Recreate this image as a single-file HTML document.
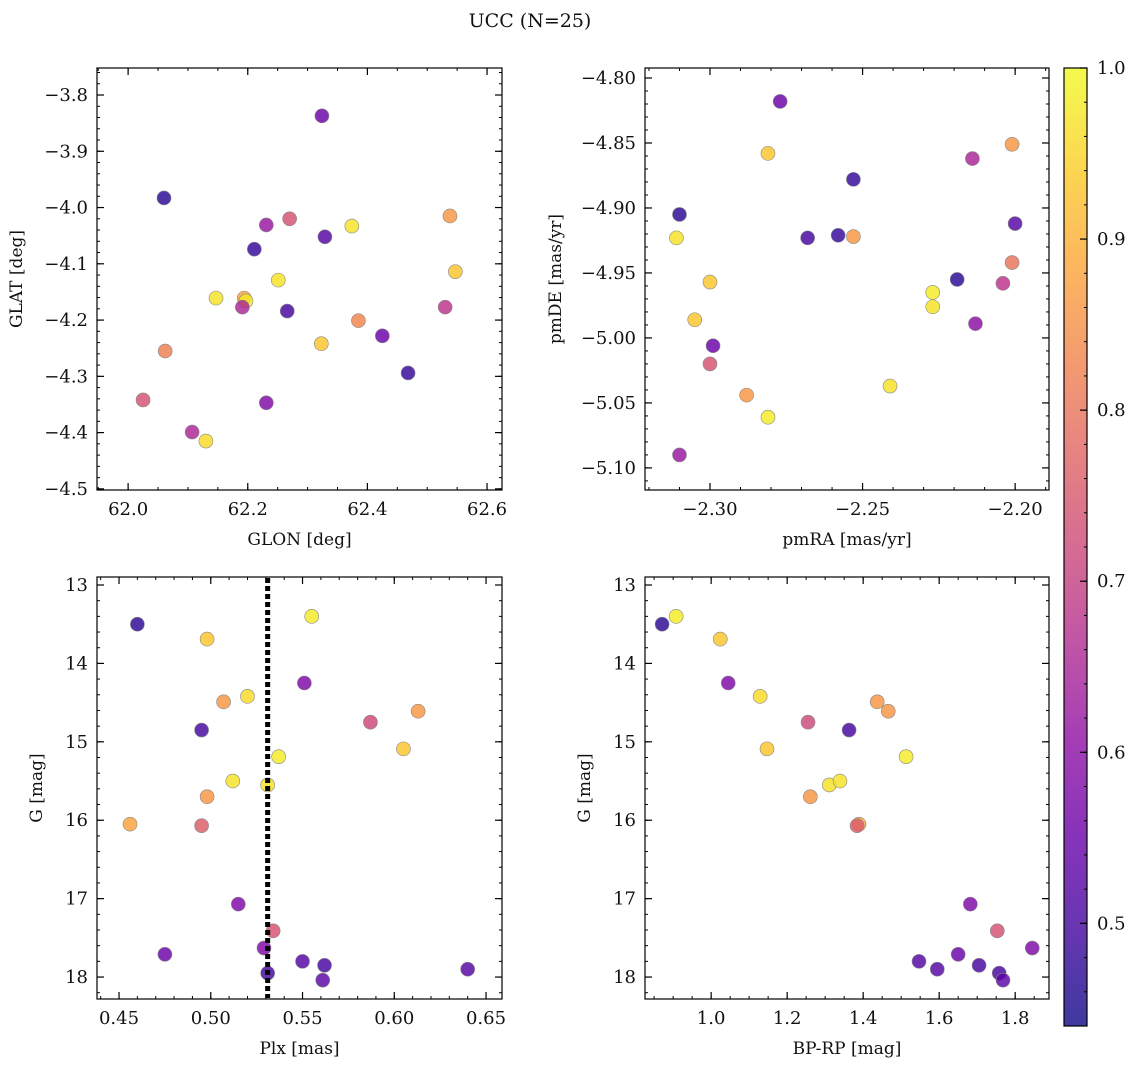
<!DOCTYPE html>
<html><head><meta charset="utf-8"><style>
body{margin:0;background:#fff;}
svg text{font-family:"DejaVu Serif","Liberation Serif",serif;fill:#111;}
</style></head><body>
<svg id="fig" width="1136" height="1067" xmlns="http://www.w3.org/2000/svg">
<text x="530" y="27" font-size="19" text-anchor="middle">UCC (N=25)</text>
</svg>
<script>
const glon=[62.324,62.06,62.231,62.27,62.329,62.374,62.538,62.211,62.547,62.251,62.147,62.194,62.197,62.191,62.53,62.266,62.385,62.323,62.425,62.062,62.468,62.025,62.231,62.107,62.13];
const glat=[-3.837,-3.983,-4.031,-4.02,-4.052,-4.033,-4.015,-4.074,-4.114,-4.129,-4.161,-4.161,-4.166,-4.177,-4.177,-4.184,-4.201,-4.242,-4.228,-4.255,-4.294,-4.342,-4.347,-4.399,-4.415];
const cTL=[0.55,0.47,0.62,0.74,0.52,0.97,0.86,0.48,0.93,0.97,0.97,0.88,0.98,0.65,0.68,0.5,0.83,0.93,0.55,0.82,0.48,0.74,0.58,0.65,0.96];
const pmra=[-2.277,-2.281,-2.253,-2.214,-2.201,-2.310,-2.311,-2.268,-2.258,-2.253,-2.2,-2.219,-2.201,-2.204,-2.30,-2.227,-2.227,-2.305,-2.213,-2.299,-2.30,-2.288,-2.241,-2.281,-2.310];
const pmde=[-4.818,-4.858,-4.878,-4.862,-4.851,-4.905,-4.923,-4.923,-4.921,-4.922,-4.912,-4.955,-4.942,-4.958,-4.957,-4.965,-4.976,-4.986,-4.989,-5.006,-5.020,-5.044,-5.037,-5.061,-5.090];
const cTR=[0.55,0.93,0.48,0.65,0.86,0.47,0.97,0.5,0.48,0.86,0.52,0.47,0.8,0.68,0.93,0.98,0.97,0.93,0.6,0.55,0.74,0.86,0.97,0.98,0.62];
const plx=[0.460,0.498,0.555,0.551,0.507,0.520,0.587,0.613,0.495,0.605,0.537,0.512,0.531,0.498,0.456,0.495,0.515,0.534,0.529,0.475,0.550,0.562,0.531,0.561,0.640];
const gmag=[13.50,13.69,13.40,14.25,14.49,14.42,14.75,14.61,14.85,15.09,15.19,15.50,15.55,15.70,16.05,16.07,17.07,17.41,17.63,17.71,17.80,17.85,17.95,18.04,17.90];
const cBL=[0.47,0.93,0.98,0.58,0.86,0.96,0.72,0.86,0.5,0.93,0.98,0.97,0.97,0.86,0.88,0.76,0.58,0.74,0.58,0.55,0.52,0.5,0.5,0.53,0.52];
const bprp=[0.871,0.908,1.024,1.045,1.129,1.437,1.466,1.255,1.363,1.147,1.513,1.311,1.339,1.261,1.389,1.384,1.682,1.753,1.845,1.650,1.547,1.705,1.758,1.768,1.595];
const gmag2=[13.50,13.40,13.69,14.25,14.42,14.49,14.61,14.75,14.85,15.09,15.19,15.55,15.50,15.70,16.05,16.07,17.07,17.41,17.63,17.71,17.80,17.85,17.95,18.04,17.90];
const cBR=[0.47,0.98,0.93,0.58,0.96,0.86,0.86,0.72,0.5,0.93,0.98,0.97,0.97,0.86,0.88,0.76,0.58,0.74,0.58,0.55,0.52,0.5,0.5,0.53,0.52];
const plxLine=0.531;
const cbTicks=[0.5,0.6,0.7,0.8,0.9,1.0];

const NS="http://www.w3.org/2000/svg";
const svg=document.getElementById('fig');
function mk(tag,at,parent){const e=document.createElementNS(NS,tag);for(const k in at)e.setAttribute(k,at[k]);(parent||svg).appendChild(e);return e;}
const stops=['#0d0887','#41049d','#6a00a8','#8f0da4','#b12a90','#cc4778','#e16462','#f2844b','#fca636','#fcce25','#f0f921'];
function hx(h){return [1,3,5].map(i=>parseInt(h.substr(i,2),16));}
const VMIN=0.44,VMAX=1.0;
function cmap(v){let t=Math.max(0,Math.min(1,(v-VMIN)/(VMAX-VMIN)))*10;let i=Math.min(9,Math.floor(t)),f=t-i;const a=hx(stops[i]),b=hx(stops[i+1]);return 'rgb('+a.map((x,k)=>Math.round(x+(b[k]-x)*f)).join(',')+')';}
function fmt(v,d){return (v<0?'\u2212':'')+Math.abs(v).toFixed(d);}
const TF=18, LF=17;
function panel(name,L,T,R,B,xr,yr,xt,xmin,xd,yt,ymin,yd,xlab,ylab,ylabX,xs,ys,cs,inv){
  const g=mk('g',{});
  
  
  const X=v=>L+(v-xr[0])/(xr[1]-xr[0])*(R-L);
  const Y=inv?(v=>T+(v-yr[0])/(yr[1]-yr[0])*(B-T)):(v=>B-(v-yr[0])/(yr[1]-yr[0])*(B-T));
  const ax=mk('g',{},g);
  for(let v=Math.ceil(xr[0]/xmin-1e-6)*xmin;v<=xr[1]+1e-9;v+=xmin){const x=X(v);mk('line',{x1:x,x2:x,y1:B,y2:B-3,stroke:'#000','stroke-width':1},ax);mk('line',{x1:x,x2:x,y1:T,y2:T+3,stroke:'#000','stroke-width':1},ax);}
  xt.forEach(v=>{const x=X(v);mk('line',{x1:x,x2:x,y1:B,y2:B-7,stroke:'#000','stroke-width':1.2},ax);mk('line',{x1:x,x2:x,y1:T,y2:T+7,stroke:'#000','stroke-width':1.2},ax);
    const t=mk('text',{x:x,y:B+25,'font-size':TF,'text-anchor':'middle'},ax);t.textContent=fmt(v,xd);
    
    });
  const ylo=Math.min(yr[0],yr[1]),yhi=Math.max(yr[0],yr[1]);
  for(let v=Math.ceil(ylo/ymin-1e-6)*ymin;v<=yhi+1e-9;v+=ymin){const y=Y(v);mk('line',{x1:L,x2:L+3,y1:y,y2:y,stroke:'#000','stroke-width':1},ax);mk('line',{x1:R,x2:R-3,y1:y,y2:y,stroke:'#000','stroke-width':1},ax);}
  yt.forEach(v=>{const y=Y(v);mk('line',{x1:L,x2:L+7,y1:y,y2:y,stroke:'#000','stroke-width':1.2},ax);mk('line',{x1:R,x2:R-7,y1:y,y2:y,stroke:'#000','stroke-width':1.2},ax);
    const t=mk('text',{x:L-9,y:y+6,'font-size':TF,'text-anchor':'end'},ax);t.textContent=fmt(v,yd);
    
    });
  const xl=mk('text',{x:(L+R)/2,y:B+55,'font-size':LF,'text-anchor':'middle'},g);xl.textContent=xlab;
  
  
  const yl=mk('text',{x:ylabX,y:(T+B)/2,'font-size':LF,'text-anchor':'middle',transform:`rotate(-90 ${ylabX} ${(T+B)/2})`},g);yl.textContent=ylab;
  
  
  const pts=mk('g',{},g);
  xs.forEach((v,i)=>{const c=mk('circle',{cx:X(v),cy:Y(ys[i]),r:7,fill:cmap(cs[i]),'fill-opacity':0.82,stroke:'#888','stroke-width':0.6},pts);
    
    });
  mk('rect',{x:L,y:T,width:R-L,height:B-T,fill:'none',stroke:'#000','stroke-width':1.2},g);
  return {g,X,Y};
}
panel('glon-glat-panel',97,68,502,490,[61.948,62.625],[-4.502,-3.752],[62.0,62.2,62.4,62.6],0.05,1,[-4.5,-4.4,-4.3,-4.2,-4.1,-4.0,-3.9,-3.8],0.02,1,'GLON [deg]','GLAT [deg]',22,glon,glat,cTL,false);
panel('pm-panel',645,68,1049,490,[-2.3213,-2.1889],[-5.117,-4.7923],[-2.30,-2.25,-2.20],0.01,2,[-5.10,-5.05,-5.00,-4.95,-4.90,-4.85,-4.80],0.01,2,'pmRA [mas/yr]','pmDE [mas/yr]',561,pmra,pmde,cTR,false);
const bl=panel('plx-g-panel',97,577,502,999,[0.438,0.6587],[12.898,18.28],[0.45,0.50,0.55,0.60,0.65],0.01,2,[13,14,15,16,17,18],0.2,0,'Plx [mas]','G [mag]',42,plx,gmag,cBL,true);
const lx=bl.X(plxLine);
const dl=mk('line',{x1:lx,x2:lx,y1:578,y2:998,stroke:'#000','stroke-width':5,'stroke-dasharray':'5 3'},bl.g);


panel('cmd-panel',645,577,1049,999,[0.826,1.889],[12.898,18.28],[1.0,1.2,1.4,1.6,1.8],0.05,1,[13,14,15,16,17,18],0.2,0,'BP-RP [mag]','G [mag]',590,bprp,gmag2,cBR,true);
const cb=mk('g',{});


const defs=mk('defs',{},cb);
const lg=mk('linearGradient',{id:'cbg',x1:0,y1:1,x2:0,y2:0},defs);
for(let i=0;i<=20;i++){const v=VMIN+(VMAX-VMIN)*i/20;mk('stop',{offset:i/20,'stop-color':cmap(v)},lg);}
const CT=68,CB=1026,CL=1064,CR=1087;
mk('rect',{x:CL,y:CT,width:CR-CL,height:CB-CT,fill:'url(#cbg)','fill-opacity':0.8},cb);
const CY=v=>CB-(v-VMIN)/(VMAX-VMIN)*(CB-CT);
for(let v=0.46;v<=1.0001;v+=0.02){const y=CY(v);mk('line',{x1:CR,x2:CR-3,y1:y,y2:y,stroke:'#000','stroke-width':1},cb);}
cbTicks.forEach(v=>{const y=CY(v);mk('line',{x1:CR,x2:CR-7,y1:y,y2:y,stroke:'#000','stroke-width':1.2},cb);
  const t=mk('text',{x:CR+10,y:y+6,'font-size':TF},cb);t.textContent=v.toFixed(1);
  
  });
mk('rect',{x:CL,y:CT,width:CR-CL,height:CB-CT,fill:'none',stroke:'#000','stroke-width':1.2},cb);
</script>
</body></html>
